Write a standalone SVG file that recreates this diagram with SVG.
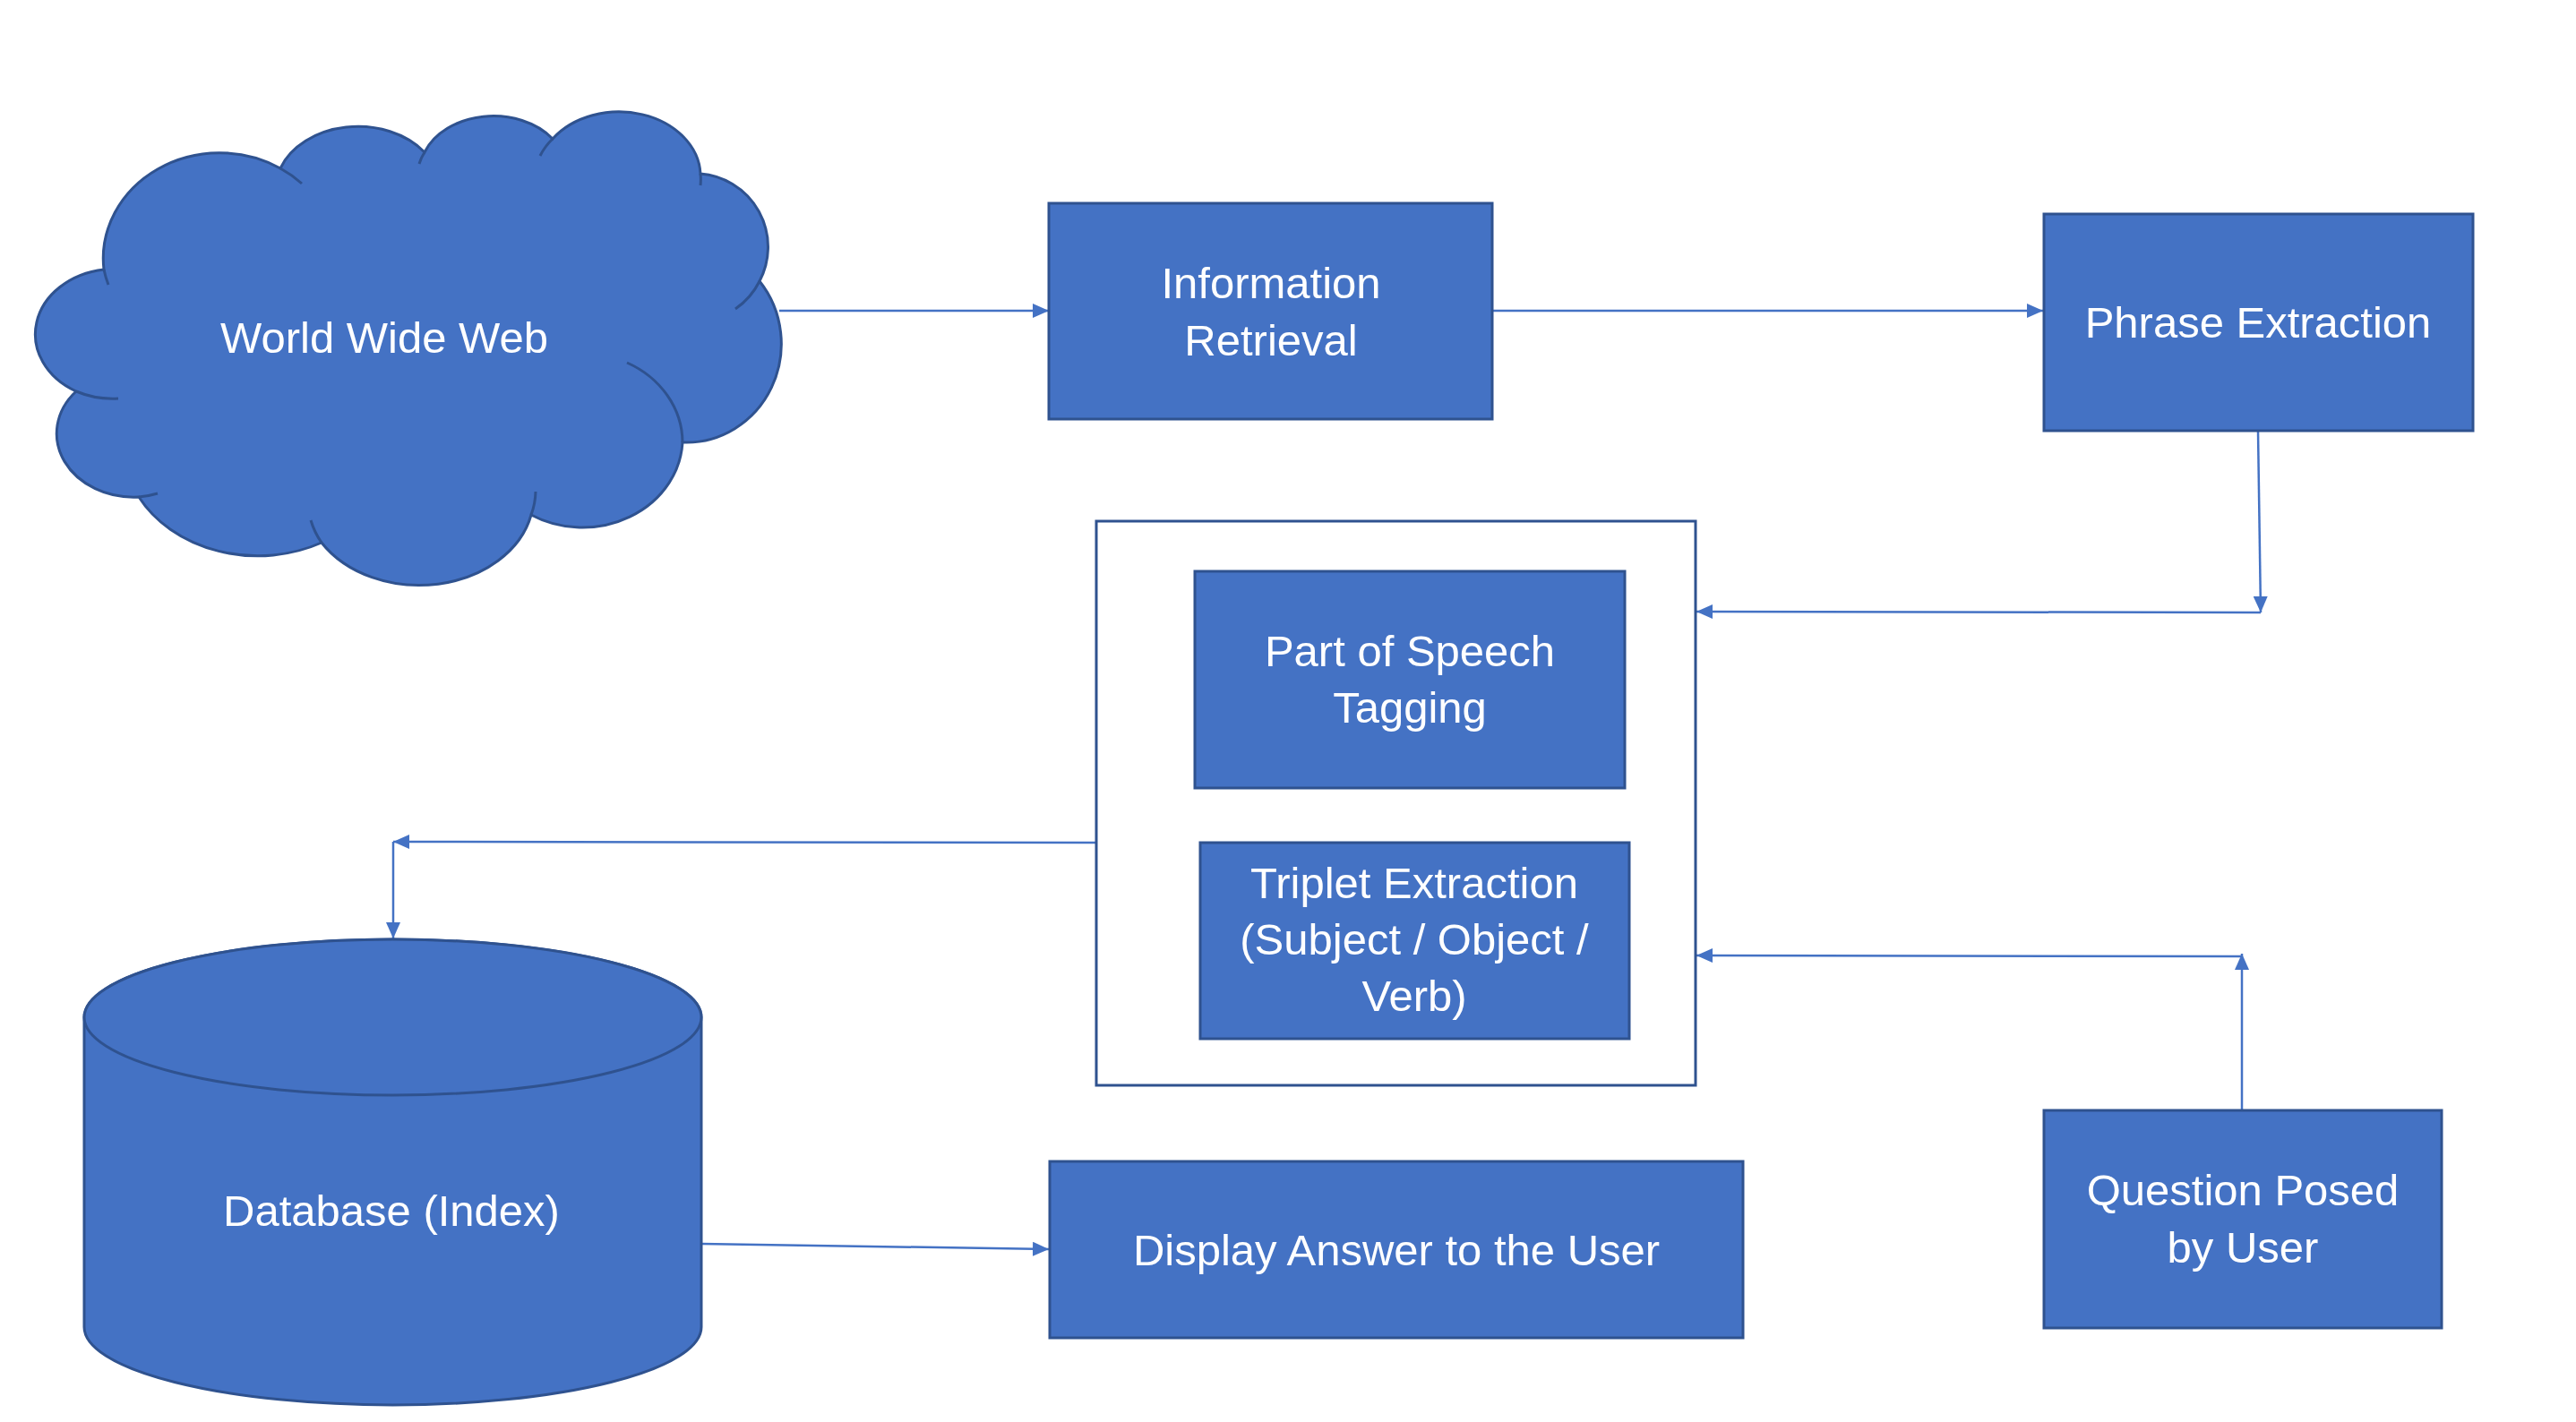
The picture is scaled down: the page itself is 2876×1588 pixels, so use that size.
<svg xmlns="http://www.w3.org/2000/svg" width="2876" height="1588" viewBox="0 0 2876 1588">
<defs>
<style>
.shape{fill:#4472C4;stroke:#2F528F;stroke-width:3}
.inner{fill:none;stroke:#2F528F;stroke-width:3}
.frame{fill:#FFFFFF;stroke:#2F528F;stroke-width:3}
.lbl{font-family:"Liberation Sans",Arial,sans-serif;font-size:49px;fill:#FFFFFF;text-anchor:middle}
.conn{fill:none;stroke:#4472C4;stroke-width:2.5}
</style>
<marker id="arr" markerUnits="userSpaceOnUse" markerWidth="18" markerHeight="16" viewBox="0 0 18 16" refX="18" refY="8" orient="auto">
<path d="M0,0 L18,8 L0,16 z" fill="#4472C4"/>
</marker>
</defs>
<rect width="2876" height="1588" fill="#FFFFFF"/>

<g id="connectors">
<line class="conn" x1="870" y1="347" x2="1171" y2="347" marker-end="url(#arr)"/>
<line class="conn" x1="1666" y1="347" x2="2281" y2="347" marker-end="url(#arr)"/>
<line class="conn" x1="2521" y1="481" x2="2524" y2="684" marker-end="url(#arr)"/>
<line class="conn" x1="2524" y1="684" x2="1894" y2="683" marker-end="url(#arr)"/>
<line class="conn" x1="1224" y1="941" x2="439" y2="940" marker-end="url(#arr)"/>
<line class="conn" x1="439" y1="940" x2="439" y2="1048" marker-end="url(#arr)"/>
<line class="conn" x1="2503" y1="1240" x2="2503" y2="1065" marker-end="url(#arr)"/>
<line class="conn" x1="2503" y1="1068" x2="1894" y2="1067" marker-end="url(#arr)"/>
<line class="conn" x1="783" y1="1389" x2="1171" y2="1395" marker-end="url(#arr)"/>
</g>

<g id="world-wide-web">
<path class="shape" d="M 85 437 A 89 73 0 0 1 116 301 A 130 118 0 0 1 313 188 A 92 70 0 0 1 474 170 A 82 62 0 0 1 617 155 A 91 72 0 0 1 782 194 A 82 82 0 0 1 848 314 A 106 110 0 0 1 762 494 A 112 100 0 0 1 593 575 A 128 100 0 0 1 359 606 A 150 123 0 0 1 155 555 A 86 71 0 0 1 85 437 Z"/>
<path class="inner" d="M 116 301 A 130 118 0 0 0 121 318 M 313 188 A 130 118 0 0 1 337 205 M 474 170 A 82 62 0 0 0 468 183 M 617 155 A 91 72 0 0 0 603 174 M 782 194 A 91 72 0 0 1 782 207 M 848 314 A 82 82 0 0 1 821 345 M 762 494 A 112 100 0 0 0 700 405 M 593 575 A 128 100 0 0 0 598 549 M 359 606 A 128 100 0 0 1 347 581 M 155 555 A 86 71 0 0 0 176 551 M 85 437 A 89 73 0 0 0 132 445"/>
<text class="lbl" x="429" y="394">World Wide Web</text>
</g>

<g id="information-retrieval">
<rect class="shape" x="1171" y="227" width="495" height="241"/>
<text class="lbl" x="1419" y="333">Information</text>
<text class="lbl" x="1419" y="397">Retrieval</text>
</g>

<g id="phrase-extraction">
<rect class="shape" x="2282" y="239" width="479" height="242"/>
<text class="lbl" x="2521" y="377">Phrase Extraction</text>
</g>

<g id="nlp-container">
<rect class="frame" x="1224" y="582" width="669" height="630"/>
</g>

<g id="pos-tagging">
<rect class="shape" x="1334" y="638" width="480" height="242"/>
<text class="lbl" x="1574" y="744">Part of Speech</text>
<text class="lbl" x="1574" y="807">Tagging</text>
</g>

<g id="triplet-extraction">
<rect class="shape" x="1340" y="941" width="479" height="219"/>
<text class="lbl" x="1579" y="1003">Triplet Extraction</text>
<text class="lbl" x="1579" y="1066">(Subject / Object /</text>
<text class="lbl" x="1579" y="1129">Verb)</text>
</g>

<g id="database">
<path class="shape" d="M 94 1136 L 94 1482 A 344.5 87 0 0 0 783 1482 L 783 1136 A 344.5 87 0 0 0 94 1136 Z"/>
<ellipse class="shape" cx="438.5" cy="1136" rx="344.5" ry="87"/>
<text class="lbl" x="437" y="1369">Database (Index)</text>
</g>

<g id="display-answer">
<rect class="shape" x="1172" y="1297" width="774" height="197"/>
<text class="lbl" x="1559" y="1413">Display Answer to the User</text>
</g>

<g id="question-posed">
<rect class="shape" x="2282" y="1240" width="444" height="243"/>
<text class="lbl" x="2504" y="1346">Question Posed</text>
<text class="lbl" x="2504" y="1410">by User</text>
</g>
</svg>
